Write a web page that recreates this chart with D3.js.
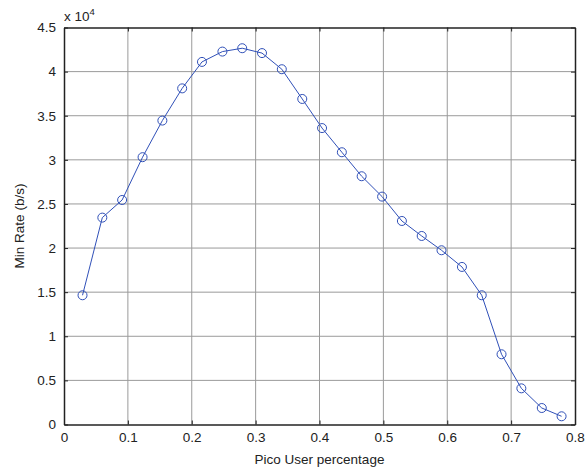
<!DOCTYPE html>
<html><head><meta charset="utf-8">
<script src="https://cdn.jsdelivr.net/npm/d3@7"></script>
<style>body{margin:0;background:#fff}svg{display:block}text{font-family:"Liberation Sans",Arial,sans-serif;fill:#222}</style>
</head><body><svg id="c" width="587" height="469"></svg>
<script>
const xValues = [0.029,0.060,0.091,0.123,0.154,0.185,0.216,0.248,0.279,0.310,0.341,0.373,0.404,0.435,0.466,0.498,0.529,0.560,0.591,0.623,0.654,0.685,0.716,0.748,0.779];
const minRate = [1.465,2.345,2.545,3.03,3.445,3.81,4.11,4.227,4.265,4.21,4.027,3.69,3.36,3.086,2.814,2.583,2.307,2.137,1.975,1.786,1.465,0.796,0.41,0.187,0.093];
const xTicks = [0,0.1,0.2,0.3,0.4,0.5,0.6,0.7,0.8];
const yTicks = [0,0.5,1,1.5,2,2.5,3,3.5,4,4.5];

const svg = d3.select("#c");
const L=64,R=575,T=27.5,B=424.5;
const FS=13.5;
const x = d3.scaleLinear().domain([0,0.8]).range([L,R]);
const y = d3.scaleLinear().domain([0,4.5]).range([B,T]);
const g = svg.append("g");
g.selectAll(".gx").data(xTicks.slice(1,-1)).join("line").attr("x1",d=>x(d)).attr("x2",d=>x(d)).attr("y1",T).attr("y2",B).attr("stroke","#9a9a9a").attr("stroke-width",1);
g.selectAll(".gy").data(yTicks.slice(1,-1)).join("line").attr("y1",d=>y(d)).attr("y2",d=>y(d)).attr("x1",L).attr("x2",R).attr("stroke","#9a9a9a").attr("stroke-width",1);
const xa = d3.axisBottom(x).tickValues(xTicks).tickFormat(d3.format("")).tickSizeInner(-4).tickSizeOuter(0).tickPadding(8);
const ya = d3.axisLeft(y).tickValues(yTicks).tickFormat(d3.format("")).tickSizeInner(-4).tickSizeOuter(0).tickPadding(8);
svg.append("g").attr("transform",`translate(0,${B})`).call(xa);
svg.append("g").attr("transform",`translate(${L},0)`).call(ya);
const xt = d3.axisTop(x).tickValues(xTicks).tickFormat("").tickSizeInner(-4).tickSizeOuter(0);
const yr = d3.axisRight(y).tickValues(yTicks).tickFormat("").tickSizeInner(-4).tickSizeOuter(0);
svg.append("g").attr("transform",`translate(0,${T})`).call(xt);
svg.append("g").attr("transform",`translate(${R},0)`).call(yr);
svg.selectAll(".domain").attr("stroke","#222").attr("stroke-width",1.5);
svg.selectAll(".tick line").attr("stroke","#222");
svg.selectAll(".tick text").attr("font-size",FS).attr("fill","#222").style("font-family","Liberation Sans, Arial, sans-serif");
const line = d3.line().x((d,i)=>x(xValues[i])).y(d=>y(d));
svg.append("path").datum(minRate).attr("d",line).attr("fill","none").attr("stroke","#3050b8").attr("stroke-width",1);
svg.selectAll(".pt").data(minRate).join("circle").attr("cx",(d,i)=>x(xValues[i])).attr("cy",d=>y(d)).attr("r",4.5).attr("fill","none").attr("stroke","#3050b8").attr("stroke-width",1);
svg.append("text").attr("x",(L+R)/2).attr("y",464).attr("text-anchor","middle").attr("font-size",FS).text("Pico User percentage");
svg.append("text").attr("transform",`translate(24,${(T+B)/2}) rotate(-90)`).attr("text-anchor","middle").attr("font-size",FS).text("Min Rate (b/s)");
const ex = svg.append("text").attr("x",64).attr("y",21).attr("font-size",FS);
ex.append("tspan").text("x 10");
ex.append("tspan").attr("font-size",9.5).attr("dy",-6).text("4");
</script></body></html>
